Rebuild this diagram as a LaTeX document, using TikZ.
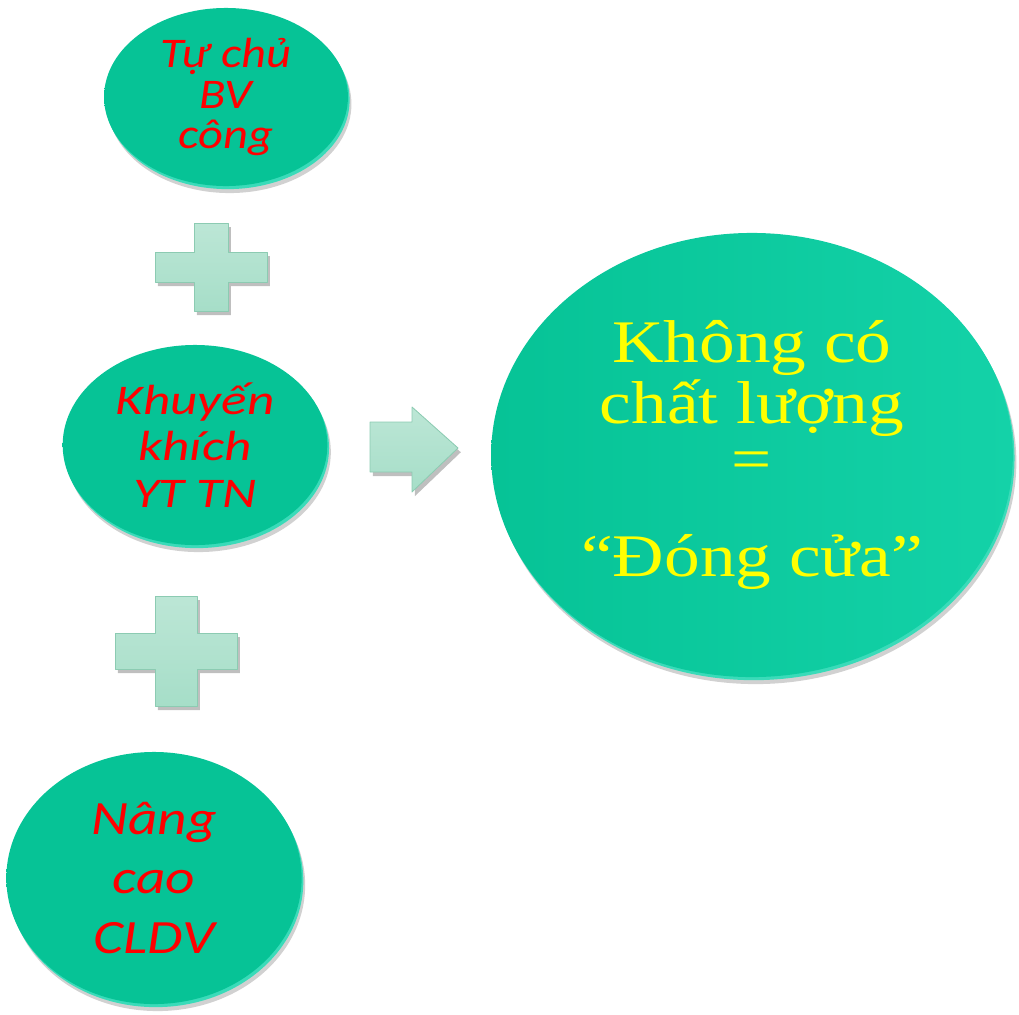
\documentclass[tikz,border=0pt]{standalone}
\usepackage{fontspec}
\setmainfont{Liberation Serif}
\newfontfamily\calfont{Carlito}
\usetikzlibrary{shapes.geometric,shadows}

\definecolor{coinface}{HTML}{06C396}
\definecolor{coinlight}{HTML}{14D2A8}
\definecolor{coinside}{HTML}{3ADBB9}
\definecolor{mint}{HTML}{A6DEC8}
\definecolor{mintdark}{HTML}{8CCBB2}
\definecolor{redtext}{HTML}{FF0000}
\definecolor{yellowtext}{HTML}{FFFF00}

\tikzset{
  coin/.style={ellipse, inner sep=0pt, align=center,
    left color=coinface, right color=coinface,
    drop shadow={shadow xshift=2.5pt, shadow yshift=-5pt, opacity=0.18, fill=black},
    general shadow={shadow xshift=1.2pt, shadow yshift=-2.2pt, fill=coinside}},
  redtext/.style={text=redtext, font=\calfont\itshape\fontsize{#1}{#1}\selectfont},
  mintshape/.style={top color=mint!75!white, bottom color=mint, draw=mintdark,
    line width=0.6pt, line join=round,
    drop shadow={shadow xshift=2pt, shadow yshift=-3pt, opacity=0.25, fill=black}}
}

\begin{document}
\begin{tikzpicture}[x=0.025cm, y=-0.025cm]
\useasboundingbox (0,0) rectangle (1019,1014);

% the three small coins
\node[coin, redtext=30, xscale=1.15, minimum width=5.3cm, minimum height=4.45cm] (tuchu) at (226,97)
  {Tự chủ\\[-1pt]BV\\[-1pt]công};
\node[coin, redtext=30, xscale=1.26, minimum width=5.25cm, minimum height=5.0cm] (khuyenkhich) at (195,445)
  {Khuyến\\[3pt]khích\\[3pt]YT TN};
\node[coin, redtext=34, xscale=1.2, minimum width=6.15cm, minimum height=6.3cm] (nangcao) at (154,878)
  {Nâng\\[8pt]cao\\[8pt]CLDV};

% the big coin
\node[coin, left color=coinface, right color=coinlight, text=yellowtext,
  font=\fontsize{43}{43}\selectfont, xscale=1.18,
  minimum width=11.05cm, minimum height=11.1cm] (dongcua) at (752,455)
  {Không có\\chất lượng\\[-3pt]=\\[26pt]“Đóng cửa”};

% plus signs
\begin{scope}[shift={(211,267)}]
\draw[mintshape] (-56,-15) -- (-17,-15) -- (-17,-44) -- (17,-44) -- (17,-15) -- (56,-15)
  -- (56,15) -- (17,15) -- (17,44) -- (-17,44) -- (-17,15) -- (-56,15) -- cycle;
\end{scope}
\begin{scope}[shift={(176,651)}]
\draw[mintshape] (-61,-18) -- (-21,-18) -- (-21,-55) -- (21,-55) -- (21,-18) -- (61,-18)
  -- (61,18) -- (21,18) -- (21,55) -- (-21,55) -- (-21,18) -- (-61,18) -- cycle;
\end{scope}

% block arrow
\draw[mintshape] (370,422) -- (412,422) -- (412,407) -- (458,448) -- (412,492)
  -- (412,472) -- (370,472) -- cycle;

\end{tikzpicture}
\end{document}
